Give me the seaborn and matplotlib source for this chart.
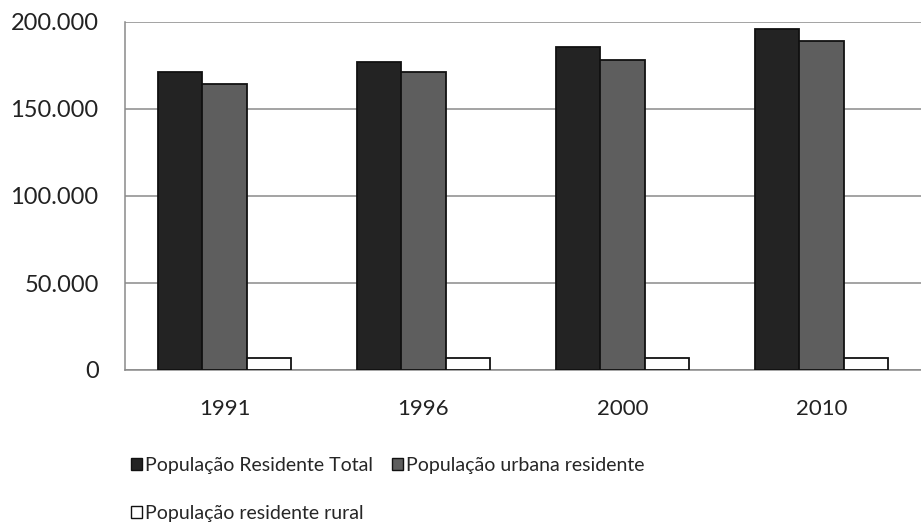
import matplotlib
matplotlib.use("Agg")
import matplotlib.pyplot as plt
from matplotlib.patches import Patch
from matplotlib.ticker import FuncFormatter
import seaborn as sns
import pandas as pd

# Census years and resident population by area
years = ["1991", "1996", "2000", "2010"]
series = ["População Residente Total", "População urbana residente", "População residente rural"]
total = [171300, 177200, 185600, 196000]
urbana = [164400, 171100, 178200, 188900]
rural = [7100, 7000, 6700, 7000]
yticks = [0, 50000, 100000, 150000, 200000]

colors = ["#232323", "#5e5e5e", "#ffffff"]

rows = []
for name, vals in zip(series, [total, urbana, rural]):
    for yr, v in zip(years, vals):
        rows.append({"Ano": yr, "Série": name, "Valor": v})
df = pd.DataFrame(rows)

sns.set_theme(style="white")
plt.rcParams["font.family"] = ["Lato", "DejaVu Sans"]

fig = plt.figure(figsize=(9.21, 5.25), dpi=100)
ax = fig.add_axes([125 / 921, 155 / 525, 796 / 921, 348 / 525])

sns.barplot(data=df, x="Ano", y="Valor", hue="Série", order=years, hue_order=series,
            palette=colors, width=0.67, edgecolor="#111111", linewidth=1.3,
            legend=False, ax=ax, zorder=3)

ax.set_xlim(-0.5, 3.5)
ax.set_ylim(0, 200000)
ax.set_yticks(yticks)
ax.yaxis.set_major_formatter(FuncFormatter(lambda v, _: f"{int(v):,}".replace(",", ".")))
ax.grid(axis="y", color="#8a8a8a", linewidth=1.1, zorder=0)
ax.set_axisbelow(True)
ax.set_xlabel("")
ax.set_ylabel("")
for side in ["top", "right"]:
    ax.spines[side].set_visible(False)
ax.spines["left"].set_color("#8a8a8a")
ax.spines["left"].set_linewidth(1.1)
ax.spines["bottom"].set_color("#8a8a8a")
ax.spines["bottom"].set_linewidth(1.1)
ax.tick_params(axis="y", length=0, pad=19, labelsize=17, colors="#222222")
ax.tick_params(axis="x", length=0, pad=21, labelsize=16, colors="#222222")

handles = [Patch(facecolor=c, edgecolor="#111111", linewidth=1.0) for c in colors]
order = [0, 2, 1]
fig.legend([handles[i] for i in order], [series[i] for i in order],
           loc="upper left", bbox_to_anchor=(131 / 921, 1 - 457 / 525), ncol=2,
           frameon=False, fontsize=14, handlelength=0.55, handleheight=0.55,
           handletextpad=0.15, columnspacing=1.0, labelspacing=1.6,
           borderaxespad=0, borderpad=0)

fig.savefig("out.png", dpi=100)
